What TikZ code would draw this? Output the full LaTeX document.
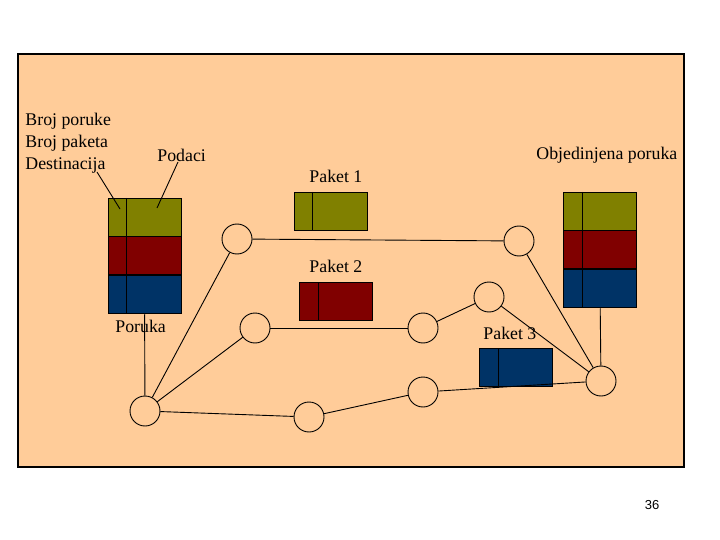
\documentclass[tikz,border=0pt]{standalone}
\usepackage{fontspec}
\setmainfont{Liberation Serif}
\setsansfont{Liberation Sans}
\usetikzlibrary{positioning}
\definecolor{peach}{RGB}{255,204,153}
\definecolor{fldolive}{RGB}{128,128,0}
\definecolor{fldred}{RGB}{128,0,0}
\definecolor{fldblue}{RGB}{0,51,102}

\begin{document}
\begin{tikzpicture}[x=1pt,y=-1pt,node distance=0pt,line width=0.9pt,
  router/.style={circle,draw,minimum size=30pt,inner sep=0pt},
  field/.style={draw,minimum width=73pt,minimum height=38pt,inner sep=0pt,
    path picture={\draw ([xshift=18.5pt]path picture bounding box.north west)
      -- ([xshift=18.5pt]path picture bounding box.south west);}},
  lbl/.style={inner sep=0pt,anchor=base west,font=\fontsize{17.8}{22}\selectfont}]
  \useasboundingbox (0,0) rectangle (720,540);
  \draw[fill=peach,line width=1.5pt] (18,54) rectangle (684,467);

  % message and joined message
  \node[field,fill=fldolive] (msgG) at (144.5,217) {};
  \node[field,fill=fldred]   (msgR) [below=of msgG] {};
  \node[field,fill=fldblue]  (msgB) [below=of msgR] {};
  \node[field,fill=fldolive] (joinG) at (600,211) {};
  \node[field,fill=fldred]   (joinR) [below=of joinG] {};
  \node[field,fill=fldblue]  (joinB) [below=of joinR] {};

  % packets
  \node[field,fill=fldolive] (pkt1) at (330.5,211) {};
  \node[field,fill=fldred]   (pkt2) at (336,301) {};
  \node[field,fill=fldblue]  (pkt3) at (516,367) {};

  % routers
  \node[router] (src)  at (145,411) {};
  \node[router] (up1)  at (237,239) {};
  \node[router] (mid1) at (255,328) {};
  \node[router] (low1) at (309,417) {};
  \node[router] (up2)  at (519,241) {};
  \node[router] (mid2) at (423,328) {};
  \node[router] (mid3) at (489,297) {};
  \node[router] (low2) at (423,392) {};
  \node[router] (dst)  at (601,381) {};

  % labels
  \node[lbl,align=left] (hdr) at (25,170) {Broj poruke\\Broj paketa\\Destinacija};
  \node[lbl] (data)  at (157,162) {Podaci};
  \node[lbl] (msg)   at (115,332.5) {Poruka};
  \node[lbl] (lbl1)  at (309,182.7) {Paket 1};
  \node[lbl] (lbl2)  at (309,272.7) {Paket 2};
  \node[lbl] (lbl3)  at (483,339) {Paket 3};
  \node[lbl] (join)  at (536,159.5) {Objedinjena poruka};
  \node[inner sep=0pt,anchor=base,font=\sffamily\fontsize{13}{15}\selectfont] (page) at (652,509) {36};

  \coordinate (hdrFrom) at (97,172);
  \coordinate (hdrTo)   at (120,209);
  \coordinate (dataFrom) at (178,162);
  \coordinate (dataTo)   at (157,208);
  \draw (hdrFrom) -- (hdrTo);
  \draw (dataFrom) -- (dataTo);

  \path (msgB) edge (src);
  \path (joinB) edge (dst);
  \path (src) edge (up1) edge (mid1) edge (low1);
  \path (up1) edge (up2);
  \path (up2) edge (dst);
  \path (mid1) edge (mid2);
  \path (mid2) edge (mid3);
  \path (mid3) edge (dst);
  \path (low1) edge (low2);
  \path (low2) edge (dst);
\end{tikzpicture}
\end{document}
